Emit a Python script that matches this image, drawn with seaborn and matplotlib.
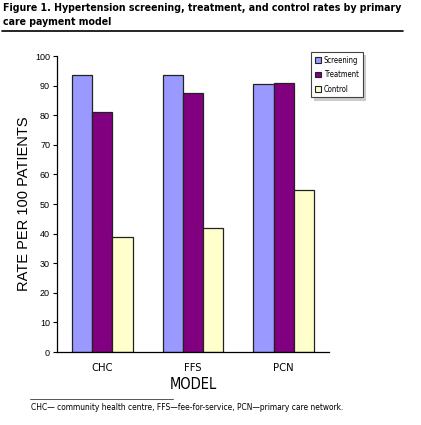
import matplotlib
matplotlib.use("Agg")
import matplotlib.pyplot as plt
import pandas as pd
import seaborn as sns
from matplotlib.lines import Line2D
from matplotlib.patches import Patch

# Données
models = ["CHC", "FFS", "PCN"]
series = ["Screening", "Treatment", "Control"]
screening = [93.5, 93.5, 90.5]
treatment = [81.0, 87.5, 91.0]
control = [38.8, 41.8, 54.7]
yticks = list(range(0, 101, 10))
colors = ["#9999FF", "#800080", "#FFFFCC"]

df = pd.DataFrame({
    "Model": models * 3,
    "Series": [s for s in series for _ in models],
    "Rate": screening + treatment + control,
})

sns.set_style("white")
plt.rcParams["font.family"] = ["Liberation Sans", "DejaVu Sans"]
plt.rcParams.update({"text.color": "black", "axes.labelcolor": "black",
                     "xtick.color": "black", "ytick.color": "black"})

fig = plt.figure(figsize=(4.21, 4.25), dpi=100)
ax = fig.add_axes([57 / 421, 1 - 352 / 425, 272 / 421, 296 / 425])

sns.barplot(data=df, x="Model", y="Rate", hue="Series", order=models,
            hue_order=series, palette=colors, saturation=1, width=0.667, gap=0,
            edgecolor="#222222", linewidth=0.9, legend=False, ax=ax)

ax.set_xlim(-0.5, 2.5)
ax.set_ylim(0, 100)
ax.set_yticks(yticks)
ax.set_yticklabels([str(t) for t in yticks], fontsize=6.5)
ax.set_xticks([0, 1, 2])
ax.set_xticklabels(models, fontsize=8, family="DejaVu Sans", fontstretch="condensed")
ax.set_xticks([0.5, 1.5, 2.5], minor=True)
ax.tick_params(axis="x", which="major", length=0, pad=8)
ax.tick_params(axis="x", which="minor", length=3, width=0.8, direction="inout")
ax.tick_params(axis="y", length=3, width=0.8, direction="out", left=True, pad=2)
sns.despine(ax=ax)
for sp in ["left", "bottom"]:
    ax.spines[sp].set_linewidth(0.9)
    ax.spines[sp].set_color("black")
ax.set_xlabel("MODEL", fontsize=10.5, labelpad=3, family="DejaVu Sans",
              fontstretch="condensed")
ax.set_ylabel("RATE PER 100 PATIENTS", fontsize=10.5, labelpad=3)

# Légende
handles = [Patch(facecolor=c, edgecolor="#222222", linewidth=0.8) for c in colors]
leg = fig.legend(handles, series, loc="upper left",
                 bbox_to_anchor=(311 / 421, 1 - 52 / 425),
                 prop={"family": "DejaVu Sans", "stretch": "condensed", "size": 5.5},
                 frameon=True, fancybox=False,
                 shadow={"color": "#cccccc", "alpha": 1},
                 handlelength=0.8, handleheight=0.8, handletextpad=0.4,
                 labelspacing=0.7, borderpad=0.5, borderaxespad=0)
leg.get_frame().set_edgecolor("#444444")
leg.get_frame().set_linewidth(0.8)

# Titre
fig.text(3 / 421, 1 - 3 / 425,
         "Figure 1. Hypertension screening, treatment, and control rates by primary\ncare payment model",
         fontsize=7.6, fontweight="bold", va="top", ha="left", linespacing=1.5,
         family="DejaVu Sans", fontstretch="condensed")
fig.add_artist(Line2D([2 / 421, 403 / 421], [1 - 31 / 425] * 2, color="black",
                      linewidth=1.2, transform=fig.transFigure))

# Note de bas de figure
fig.add_artist(Line2D([30 / 421, 173 / 421], [1 - 399 / 425] * 2, color="#555555",
                      linewidth=0.7, transform=fig.transFigure))
fig.text(31 / 421, 1 - 407 / 425,
         "CHC\u2014 community health centre, FFS\u2014fee-for-service, PCN\u2014primary care network.",
         fontsize=6.0, va="center", ha="left", family="DejaVu Sans",
         fontstretch="condensed")

fig.savefig("out.png", dpi=100)
